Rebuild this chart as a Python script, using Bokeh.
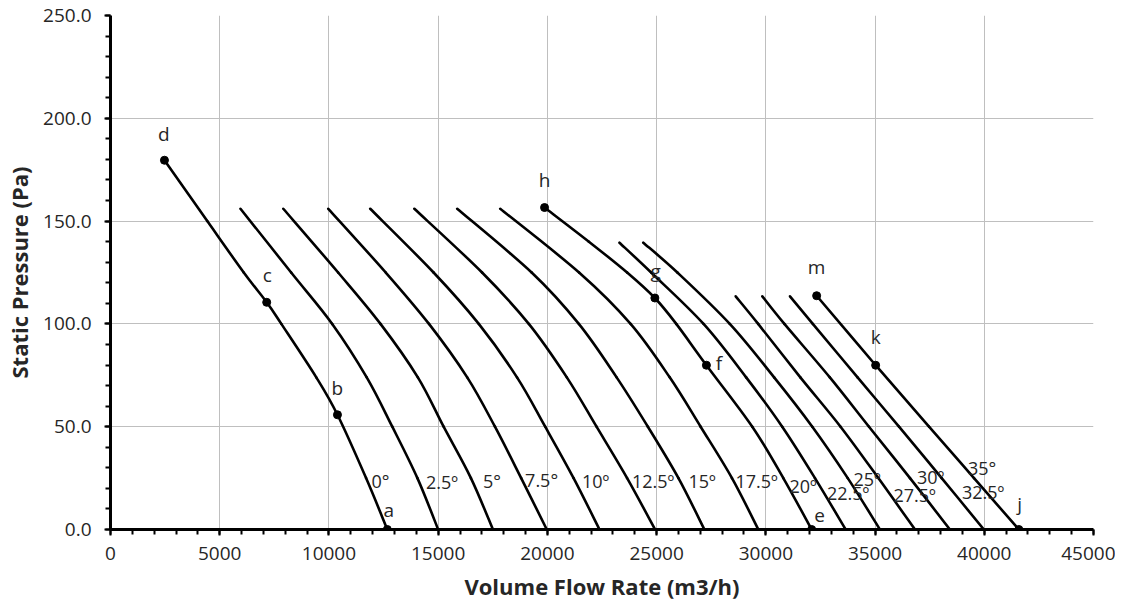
from bokeh.plotting import figure
from bokeh.models import Range1d, FixedTicker, PrintfTickFormatter, ColumnDataSource
from bokeh.core.properties import value
from bokeh.embed import file_html
from bokeh.resources import INLINE

FONT = "Open Sans"

# ---------------- data ----------------
x_ticks = [0, 5000, 10000, 15000, 20000, 25000, 30000, 35000, 40000, 45000]
y_ticks = [0, 50, 100, 150, 200, 250]

# 0 deg curve (d - c - b - a)
p_00 = [179.6, 150, 125, 110.5, 100, 74, 55.8, 25, 0]
q_00 = [2470, 4430, 6100, 7150, 7820, 9420, 10390, 11700, 12672]

# common pressure levels for 2.5 .. 17.5 deg
p_main = [156, 125, 100, 74, 50, 25, 0]
q_025 = [5950, 8270, 10150, 11730, 12900, 14050, 15000]
q_050 = [7910, 10420, 12360, 14070, 15250, 16500, 17507]
q_075 = [9970, 12600, 14580, 16330, 17600, 18800, 19973]
q_100 = [11890, 14790, 16860, 18610, 19900, 21200, 22385]
q_125 = [13910, 17010, 19150, 20890, 22250, 23650, 24931]
q_150 = [15870, 19280, 21440, 23170, 24600, 26000, 27187]
q_175 = [17840, 21450, 23810, 25600, 27015, 28450, 29657]

# 20 deg curve (h - g - f - e)
p_200 = [156.6, 140, 125, 112.6, 100, 79.9, 50, 25, 0]
q_200 = [19870, 21900, 23650, 24920, 25900, 27280, 29380, 30800, 32098]

# 22.5 and 25 deg
p_mid = [139.5, 125, 100, 74, 50, 25, 0]
q_225 = [23300, 24750, 27150, 29100, 30750, 32250, 33655]
q_250 = [24390, 25950, 28350, 30380, 32127, 33750, 35224]

# 27.5 .. 32.5 deg
p_low = [113.4, 100, 74, 50, 25, 0]
q_275 = [28620, 29650, 31580, 33420, 35150, 36825]
q_300 = [29840, 30850, 32930, 34722, 36600, 38426]
q_325 = [31105, 32150, 34200, 36096, 38050, 39982]

# 35 deg curve (m - k - j)
p_350 = [113.7, 79.9, 50, 25, 0]
q_350 = [32326, 35027, 37470, 39530, 41583]

# marked points
pt_names = ["a", "b", "c", "d", "e", "f", "g", "h", "j", "k", "m"]
pt_q = [12672, 10390, 7150, 2470, 32098, 27280, 24920, 19870, 41583, 35027, 32326]
pt_p = [0, 55.8, 110.5, 179.6, 0, 79.9, 112.6, 156.6, 0, 79.9, 113.7]
# where the point letters sit (data units)
pt_lab_q = [12743, 10380, 7175, 2441, 32463, 27857, 24954, 19872, 41621, 35027, 32326]
pt_lab_p = [9.3, 68.7, 123.9, 192.4, 6.9, 81.1, 125.5, 169.9, 12.6, 93.6, 127.9]

# blade angle labels
angles = ["0°", "2.5º", "5°", "7.5°", "10º", "12.5º", "15º", "17.5º", "20º",
          "22.5º", "25º", "27.5º", "30º", "32.5º", "35°"]
ang_q = [12363, 15179, 17468, 19735, 22207, 24840, 27083, 29579, 31708,
         33768, 34638, 36813, 37546, 39949, 39904]
ang_p = [23.4, 22.9, 23.4, 24.3, 23.4, 23.4, 23.4, 23.4, 21.4,
         17.6, 24.8, 16.6, 25.3, 18.1, 29.7]

curves = [
    (q_00, p_00), (q_025, p_main), (q_050, p_main), (q_075, p_main),
    (q_100, p_main), (q_125, p_main), (q_150, p_main), (q_175, p_main),
    (q_200, p_200), (q_225, p_mid), (q_250, p_mid),
    (q_275, p_low), (q_300, p_low), (q_325, p_low), (q_350, p_350),
]


def smooth_segments(xs, ys):
    """Catmull-Rom through the read points, expressed as cubic Bezier pieces
    (like a spreadsheet's smoothed line)."""
    n = len(xs)
    seg = dict(x0=[], y0=[], x1=[], y1=[], cx0=[], cy0=[], cx1=[], cy1=[])
    for i in range(n - 1):
        a = max(i - 1, 0)
        d = min(i + 2, n - 1)
        seg["x0"].append(xs[i]); seg["y0"].append(ys[i])
        seg["x1"].append(xs[i + 1]); seg["y1"].append(ys[i + 1])
        seg["cx0"].append(xs[i] + (xs[i + 1] - xs[a]) / 6.0)
        seg["cy0"].append(ys[i] + (ys[i + 1] - ys[a]) / 6.0)
        seg["cx1"].append(xs[i + 1] - (xs[d] - xs[i]) / 6.0)
        seg["cy1"].append(ys[i + 1] - (ys[d] - ys[i]) / 6.0)
    return seg


# ---------------- figure ----------------
fig = figure(
    frame_width=983, frame_height=514,
    min_border_left=110, min_border_right=22, min_border_top=15, min_border_bottom=76,
    x_range=Range1d(0, 45000), y_range=Range1d(0, 250),
    output_backend="svg", toolbar_location=None,
)
fig.outline_line_color = None
fig.background_fill_color = "white"
fig.border_fill_color = "white"

fig.xaxis.ticker = FixedTicker(ticks=x_ticks, minor_ticks=list(range(0, 45001, 1000)))
fig.yaxis.ticker = FixedTicker(ticks=y_ticks, minor_ticks=list(range(0, 251, 10)))
fig.yaxis.formatter = PrintfTickFormatter(format="%.1f")
fig.xaxis.formatter = PrintfTickFormatter(format="%d")

for ax in (fig.xaxis, fig.yaxis):
    ax.axis_line_width = 3
    ax.axis_line_color = "black"
    ax.major_tick_line_width = 2
    ax.major_tick_line_color = "black"
    ax.major_tick_out = 6
    ax.major_tick_in = 0
    ax.minor_tick_line_width = 2
    ax.minor_tick_line_color = "black"
    ax.minor_tick_out = 5
    ax.minor_tick_in = 0
    ax.major_label_text_font = FONT
    ax.major_label_text_font_size = "19px"
    ax.major_label_text_color = "#262626"
    ax.axis_label_text_font = FONT
    ax.axis_label_text_font_size = "22px"
    ax.axis_label_text_font_style = "bold"
    ax.axis_label_text_color = "#262626"

fig.xaxis.axis_label = "Volume Flow Rate (m3/h)"
fig.yaxis.axis_label = "Static Pressure (Pa)"
fig.xaxis.major_label_standoff = 11
fig.yaxis.major_label_standoff = 13
fig.xaxis.axis_label_standoff = 8
fig.yaxis.axis_label_standoff = 6

fig.xgrid.grid_line_color = "#bfbfbf"
fig.ygrid.grid_line_color = "#bfbfbf"
fig.xgrid.grid_line_width = 1
fig.ygrid.grid_line_width = 1

for q, pr in curves:
    src = ColumnDataSource(smooth_segments(q, pr))
    fig.bezier(x0="x0", y0="y0", x1="x1", y1="y1", cx0="cx0", cy0="cy0",
               cx1="cx1", cy1="cy1", source=src, line_width=2.6,
               line_color="black", line_cap="round")

fig.scatter(pt_q, pt_p, size=8, color="black")

lab_src = ColumnDataSource(dict(x=pt_lab_q, y=pt_lab_p, t=pt_names))
fig.text(x="x", y="y", text="t", source=lab_src, text_font=value(FONT),
         text_font_size="19px", text_align="center", text_baseline="middle",
         text_color="#262626")

ang_src = ColumnDataSource(dict(x=ang_q, y=ang_p, t=angles))
fig.text(x="x", y="y", text="t", source=ang_src, text_font=value(FONT),
         text_font_size="18px", text_align="center", text_baseline="middle",
         text_color="#262626")

open("out.html", "w").write(file_html(fig, INLINE))
